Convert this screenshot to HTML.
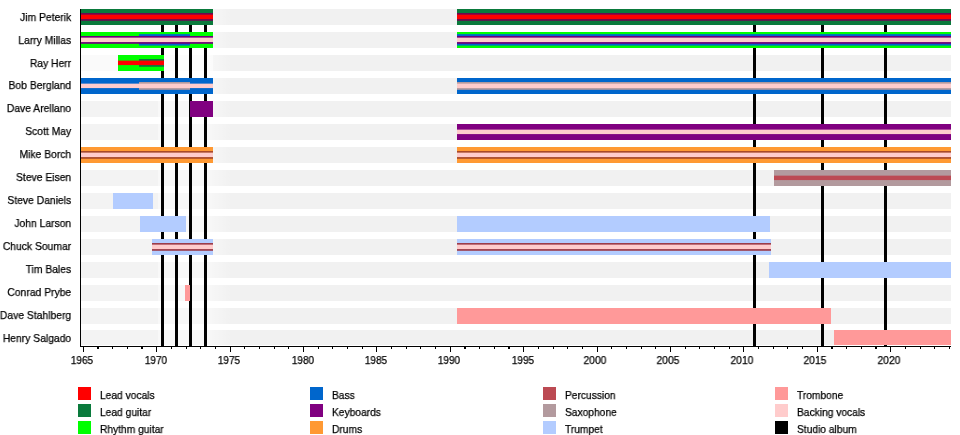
<!DOCTYPE html>
<html><head><meta charset="utf-8"><title>Timeline</title>
<style>
html,body{margin:0;padding:0;background:#fff;}
body{width:960px;height:435px;position:relative;overflow:hidden;font-family:"Liberation Sans",sans-serif;font-size:11px;color:#000;-webkit-text-stroke:0.25px #000;}
div{position:absolute;}
.g{background:#f1f1f1;}
.n{will-change:transform;left:-30px;width:101.2px;text-align:right;white-space:nowrap;line-height:12px;height:12px;transform-origin:100% 50%;transform:scaleX(.94);}
.a{background:#000;}
.y{will-change:transform;width:40px;text-align:center;top:354px;line-height:12px;transform:scaleX(.915);}
.s{width:13.2px;height:13px;}
.l{will-change:transform;white-space:nowrap;line-height:12px;transform-origin:0 50%;transform:scaleX(.93);}
</style></head><body>

<div class="g" style="left:80.5px;top:9px;width:870.3px;height:15.75px"></div>
<div class="g" style="left:80.5px;top:32px;width:870.3px;height:15.75px"></div>
<div class="g" style="left:80.5px;top:55px;width:870.3px;height:15.75px"></div>
<div class="g" style="left:80.5px;top:78px;width:870.3px;height:15.75px"></div>
<div class="g" style="left:80.5px;top:101px;width:870.3px;height:15.75px"></div>
<div class="g" style="left:80.5px;top:124px;width:870.3px;height:15.75px"></div>
<div class="g" style="left:80.5px;top:147px;width:870.3px;height:15.75px"></div>
<div class="g" style="left:80.5px;top:170px;width:870.3px;height:15.75px"></div>
<div class="g" style="left:80.5px;top:193px;width:870.3px;height:15.75px"></div>
<div class="g" style="left:80.5px;top:216px;width:870.3px;height:15.75px"></div>
<div class="g" style="left:80.5px;top:239px;width:870.3px;height:15.75px"></div>
<div class="g" style="left:80.5px;top:262px;width:870.3px;height:15.75px"></div>
<div class="g" style="left:80.5px;top:285px;width:870.3px;height:15.75px"></div>
<div class="g" style="left:80.5px;top:308px;width:870.3px;height:15.75px"></div>
<div class="g" style="left:80.5px;top:329.9px;width:870.3px;height:15.6px"></div>
<div style="left:80.5px;top:55px;width:132.5px;height:15.75px;background:#f9f9f9"></div>
<div style="left:80.5px;top:9px;width:77.5px;height:337.0px;background:rgba(255,255,255,.18)"></div>
<div style="left:158px;top:9px;width:74px;height:337.0px;background:linear-gradient(90deg,rgba(255,255,255,.5) 0,rgba(255,255,255,.5) 50px,rgba(255,255,255,.3) 58px,rgba(255,255,255,0) 74px)"></div>
<div class="a" style="left:161.05px;top:9px;width:2.9px;height:337.0px"></div>
<div class="a" style="left:175.05px;top:9px;width:2.9px;height:337.0px"></div>
<div class="a" style="left:189.05px;top:9px;width:2.9px;height:337.0px"></div>
<div class="a" style="left:204.05px;top:9px;width:2.9px;height:337.0px"></div>
<div class="a" style="left:753.05px;top:9px;width:2.9px;height:337.0px"></div>
<div class="a" style="left:821.25px;top:9px;width:2.9px;height:337.0px"></div>
<div class="a" style="left:884.25px;top:9px;width:2.9px;height:337.0px"></div>
<div style="left:80.5px;top:9px;width:132.5px;height:15.75px;background:linear-gradient(180deg,#0a7a3c 0.00px,#0a7a3c 3.52px,#6a0850 4.42px,#6a0850 5.17px,#ff0000 6.08px,#ff0000 9.68px,#6a0850 10.57px,#6a0850 11.33px,#0a7a3c 12.22px,#0a7a3c 15.75px)"></div>
<div style="left:457.0px;top:9px;width:493.8px;height:15.75px;background:linear-gradient(180deg,#0a7a3c 0.00px,#0a7a3c 3.52px,#6a0850 4.42px,#6a0850 5.17px,#ff0000 6.08px,#ff0000 9.68px,#6a0850 10.57px,#6a0850 11.33px,#0a7a3c 12.22px,#0a7a3c 15.75px)"></div>
<div style="left:80.5px;top:32px;width:58.9px;height:15.75px;background:linear-gradient(180deg,#00ff00 0.00px,#00ff00 3.52px,#6c0078 4.42px,#6c0078 5.17px,#ffcccc 6.08px,#ffcccc 9.68px,#6c0078 10.57px,#6c0078 11.33px,#00ff00 12.22px,#00ff00 15.75px)"></div>
<div style="left:139.4px;top:32px;width:50.2px;height:15.75px;background:linear-gradient(180deg,#00ff00 0.00px,#00ff00 1.72px,#0066cc 2.62px,#0066cc 3.52px,#6c0078 4.42px,#6c0078 5.17px,#ffcccc 6.08px,#ffcccc 9.68px,#6c0078 10.57px,#6c0078 11.33px,#0066cc 12.22px,#0066cc 13.12px,#00ff00 14.02px,#00ff00 15.75px)"></div>
<div style="left:189.6px;top:32px;width:23.4px;height:15.75px;background:linear-gradient(180deg,#00ff00 0.00px,#00ff00 3.52px,#6c0078 4.42px,#6c0078 5.17px,#ffcccc 6.08px,#ffcccc 9.68px,#6c0078 10.57px,#6c0078 11.33px,#00ff00 12.22px,#00ff00 15.75px)"></div>
<div style="left:457.0px;top:32px;width:493.8px;height:15.75px;background:linear-gradient(180deg,#00ff00 0.00px,#00ff00 1.72px,#0066cc 2.62px,#0066cc 3.52px,#6c0078 4.42px,#6c0078 5.17px,#ffcccc 6.08px,#ffcccc 9.68px,#6c0078 10.57px,#6c0078 11.33px,#0066cc 12.22px,#0066cc 13.12px,#00ff00 14.02px,#00ff00 15.75px)"></div>
<div style="left:118.0px;top:55px;width:21.4px;height:15.75px;background:linear-gradient(180deg,#00ff00 0.00px,#00ff00 5.17px,#ff0000 6.08px,#ff0000 9.68px,#00ff00 10.57px,#00ff00 15.75px)"></div>
<div style="left:139.4px;top:55px;width:24.6px;height:15.75px;background:linear-gradient(180deg,#00ff00 0.00px,#00ff00 3.52px,#0a7a3c 4.42px,#0a7a3c 5.17px,#ff0000 6.08px,#ff0000 9.68px,#0a7a3c 10.57px,#0a7a3c 11.33px,#00ff00 12.22px,#00ff00 15.75px)"></div>
<div style="left:80.5px;top:78px;width:58.9px;height:15.75px;background:linear-gradient(180deg,#0066cc 0.00px,#0066cc 5.17px,#ffcccc 6.08px,#ffcccc 9.68px,#0066cc 10.57px,#0066cc 15.75px)"></div>
<div style="left:139.4px;top:78px;width:50.2px;height:15.75px;background:linear-gradient(180deg,#0066cc 0.00px,#0066cc 3.52px,#b39a9e 4.42px,#b39a9e 5.17px,#ffcccc 6.08px,#ffcccc 9.68px,#b39a9e 10.57px,#b39a9e 11.33px,#0066cc 12.22px,#0066cc 15.75px)"></div>
<div style="left:189.6px;top:78px;width:23.4px;height:15.75px;background:linear-gradient(180deg,#0066cc 0.00px,#0066cc 5.17px,#ffcccc 6.08px,#ffcccc 9.68px,#0066cc 10.57px,#0066cc 15.75px)"></div>
<div style="left:457.0px;top:78px;width:493.8px;height:15.75px;background:linear-gradient(180deg,#0066cc 0.00px,#0066cc 3.52px,#b39a9e 4.42px,#b39a9e 5.17px,#ffcccc 6.08px,#ffcccc 9.68px,#b39a9e 10.57px,#b39a9e 11.33px,#0066cc 12.22px,#0066cc 15.75px)"></div>
<div style="left:189.6px;top:101px;width:23.4px;height:15.75px;background:#800080"></div>
<div style="left:457.0px;top:124px;width:493.8px;height:15.75px;background:linear-gradient(180deg,#800080 0.00px,#800080 5.17px,#ffcccc 6.08px,#ffcccc 9.68px,#800080 10.57px,#800080 15.75px)"></div>
<div style="left:80.5px;top:147px;width:132.5px;height:15.75px;background:linear-gradient(180deg,#ff9933 0.00px,#ff9933 3.52px,#a84a2a 4.42px,#a84a2a 5.17px,#ffcccc 6.08px,#ffcccc 9.68px,#a84a2a 10.57px,#a84a2a 11.33px,#ff9933 12.22px,#ff9933 15.75px)"></div>
<div style="left:457.0px;top:147px;width:493.8px;height:15.75px;background:linear-gradient(180deg,#ff9933 0.00px,#ff9933 3.52px,#a84a2a 4.42px,#a84a2a 5.17px,#ffcccc 6.08px,#ffcccc 9.68px,#a84a2a 10.57px,#a84a2a 11.33px,#ff9933 12.22px,#ff9933 15.75px)"></div>
<div style="left:773.8px;top:170px;width:177.0px;height:15.75px;background:linear-gradient(180deg,#b39a9e 0.00px,#b39a9e 5.17px,#bc4a53 6.08px,#bc4a53 9.68px,#b39a9e 10.57px,#b39a9e 15.75px)"></div>
<div style="left:113.4px;top:193px;width:39.6px;height:15.75px;background:#b3ccff"></div>
<div style="left:139.6px;top:216px;width:46.4px;height:15.75px;background:#b3ccff"></div>
<div style="left:457.0px;top:216px;width:312.8px;height:15.75px;background:#b3ccff"></div>
<div style="left:152.0px;top:239px;width:61.0px;height:15.75px;background:linear-gradient(180deg,#b3ccff 0.00px,#b3ccff 3.52px,#9c3c4a 4.42px,#9c3c4a 5.17px,#ffcccc 6.08px,#ffcccc 9.68px,#9c3c4a 10.57px,#9c3c4a 11.33px,#b3ccff 12.22px,#b3ccff 15.75px)"></div>
<div style="left:457.0px;top:239px;width:314.1px;height:15.75px;background:linear-gradient(180deg,#b3ccff 0.00px,#b3ccff 3.52px,#9c3c4a 4.42px,#9c3c4a 5.17px,#ffcccc 6.08px,#ffcccc 9.68px,#9c3c4a 10.57px,#9c3c4a 11.33px,#b3ccff 12.22px,#b3ccff 15.75px)"></div>
<div style="left:769.2px;top:262px;width:181.6px;height:15.75px;background:#b3ccff"></div>
<div style="left:185.0px;top:285px;width:5.0px;height:15.75px;background:#ff9999"></div>
<div style="left:457.0px;top:308px;width:373.8px;height:15.75px;background:#ff9999"></div>
<div style="left:833.5px;top:329.9px;width:117.3px;height:15.6px;background:#ff9999"></div>
<div class="a" style="left:80px;top:9px;width:1.1px;height:337.6px"></div>
<div class="a" style="left:80px;top:345.6px;width:870.8px;height:1.3px"></div>
<div class="a" style="left:82.75px;top:346.0px;width:1.1px;height:5.8px"></div>
<div class="y" style="left:62.30px">1965</div>
<div class="a" style="left:97.43px;top:346.0px;width:1.1px;height:3px"></div>
<div class="a" style="left:112.11px;top:346.0px;width:1.1px;height:3px"></div>
<div class="a" style="left:126.79px;top:346.0px;width:1.1px;height:3px"></div>
<div class="a" style="left:141.47px;top:346.0px;width:1.1px;height:3px"></div>
<div class="a" style="left:156.15px;top:346.0px;width:1.1px;height:5.8px"></div>
<div class="y" style="left:135.70px">1970</div>
<div class="a" style="left:170.83px;top:346.0px;width:1.1px;height:3px"></div>
<div class="a" style="left:185.51px;top:346.0px;width:1.1px;height:3px"></div>
<div class="a" style="left:200.19px;top:346.0px;width:1.1px;height:3px"></div>
<div class="a" style="left:214.87px;top:346.0px;width:1.1px;height:3px"></div>
<div class="a" style="left:229.55px;top:346.0px;width:1.1px;height:5.8px"></div>
<div class="y" style="left:209.10px">1975</div>
<div class="a" style="left:244.23px;top:346.0px;width:1.1px;height:3px"></div>
<div class="a" style="left:258.91px;top:346.0px;width:1.1px;height:3px"></div>
<div class="a" style="left:273.59px;top:346.0px;width:1.1px;height:3px"></div>
<div class="a" style="left:288.27px;top:346.0px;width:1.1px;height:3px"></div>
<div class="a" style="left:302.95px;top:346.0px;width:1.1px;height:5.8px"></div>
<div class="y" style="left:282.50px">1980</div>
<div class="a" style="left:317.63px;top:346.0px;width:1.1px;height:3px"></div>
<div class="a" style="left:332.31px;top:346.0px;width:1.1px;height:3px"></div>
<div class="a" style="left:346.99px;top:346.0px;width:1.1px;height:3px"></div>
<div class="a" style="left:361.67px;top:346.0px;width:1.1px;height:3px"></div>
<div class="a" style="left:376.35px;top:346.0px;width:1.1px;height:5.8px"></div>
<div class="y" style="left:355.90px">1985</div>
<div class="a" style="left:391.03px;top:346.0px;width:1.1px;height:3px"></div>
<div class="a" style="left:405.71px;top:346.0px;width:1.1px;height:3px"></div>
<div class="a" style="left:420.39px;top:346.0px;width:1.1px;height:3px"></div>
<div class="a" style="left:435.07px;top:346.0px;width:1.1px;height:3px"></div>
<div class="a" style="left:449.75px;top:346.0px;width:1.1px;height:5.8px"></div>
<div class="y" style="left:429.30px">1990</div>
<div class="a" style="left:464.43px;top:346.0px;width:1.1px;height:3px"></div>
<div class="a" style="left:479.11px;top:346.0px;width:1.1px;height:3px"></div>
<div class="a" style="left:493.79px;top:346.0px;width:1.1px;height:3px"></div>
<div class="a" style="left:508.47px;top:346.0px;width:1.1px;height:3px"></div>
<div class="a" style="left:523.15px;top:346.0px;width:1.1px;height:5.8px"></div>
<div class="y" style="left:502.70px">1995</div>
<div class="a" style="left:537.83px;top:346.0px;width:1.1px;height:3px"></div>
<div class="a" style="left:552.51px;top:346.0px;width:1.1px;height:3px"></div>
<div class="a" style="left:567.19px;top:346.0px;width:1.1px;height:3px"></div>
<div class="a" style="left:581.87px;top:346.0px;width:1.1px;height:3px"></div>
<div class="a" style="left:596.55px;top:346.0px;width:1.1px;height:5.8px"></div>
<div class="y" style="left:575.00px;transform:scaleX(.94)">2000</div>
<div class="a" style="left:611.23px;top:346.0px;width:1.1px;height:3px"></div>
<div class="a" style="left:625.91px;top:346.0px;width:1.1px;height:3px"></div>
<div class="a" style="left:640.59px;top:346.0px;width:1.1px;height:3px"></div>
<div class="a" style="left:655.27px;top:346.0px;width:1.1px;height:3px"></div>
<div class="a" style="left:669.95px;top:346.0px;width:1.1px;height:5.8px"></div>
<div class="y" style="left:648.40px;transform:scaleX(.94)">2005</div>
<div class="a" style="left:684.63px;top:346.0px;width:1.1px;height:3px"></div>
<div class="a" style="left:699.31px;top:346.0px;width:1.1px;height:3px"></div>
<div class="a" style="left:713.99px;top:346.0px;width:1.1px;height:3px"></div>
<div class="a" style="left:728.67px;top:346.0px;width:1.1px;height:3px"></div>
<div class="a" style="left:743.35px;top:346.0px;width:1.1px;height:5.8px"></div>
<div class="y" style="left:721.80px;transform:scaleX(.94)">2010</div>
<div class="a" style="left:758.03px;top:346.0px;width:1.1px;height:3px"></div>
<div class="a" style="left:772.71px;top:346.0px;width:1.1px;height:3px"></div>
<div class="a" style="left:787.39px;top:346.0px;width:1.1px;height:3px"></div>
<div class="a" style="left:802.07px;top:346.0px;width:1.1px;height:3px"></div>
<div class="a" style="left:816.75px;top:346.0px;width:1.1px;height:5.8px"></div>
<div class="y" style="left:795.20px;transform:scaleX(.94)">2015</div>
<div class="a" style="left:831.43px;top:346.0px;width:1.1px;height:3px"></div>
<div class="a" style="left:846.11px;top:346.0px;width:1.1px;height:3px"></div>
<div class="a" style="left:860.79px;top:346.0px;width:1.1px;height:3px"></div>
<div class="a" style="left:875.47px;top:346.0px;width:1.1px;height:3px"></div>
<div class="a" style="left:890.15px;top:346.0px;width:1.1px;height:5.8px"></div>
<div class="y" style="left:868.60px;transform:scaleX(.94)">2020</div>
<div class="a" style="left:904.83px;top:346.0px;width:1.1px;height:3px"></div>
<div class="a" style="left:919.51px;top:346.0px;width:1.1px;height:3px"></div>
<div class="a" style="left:934.19px;top:346.0px;width:1.1px;height:3px"></div>
<div class="a" style="left:948.87px;top:346.0px;width:1.1px;height:3px"></div>
<div class="n" style="top:10.70px">Jim Peterik</div>
<div class="n" style="top:33.63px">Larry Millas</div>
<div class="n" style="top:56.56px">Ray Herr</div>
<div class="n" style="top:79.49px">Bob Bergland</div>
<div class="n" style="top:102.42px">Dave Arellano</div>
<div class="n" style="top:125.35px">Scott May</div>
<div class="n" style="top:148.28px">Mike Borch</div>
<div class="n" style="top:171.21px">Steve Eisen</div>
<div class="n" style="top:194.14px">Steve Daniels</div>
<div class="n" style="top:217.07px">John Larson</div>
<div class="n" style="top:240.00px">Chuck Soumar</div>
<div class="n" style="top:262.93px">Tim Bales</div>
<div class="n" style="top:285.86px">Conrad Prybe</div>
<div class="n" style="top:308.79px">Dave Stahlberg</div>
<div class="n" style="top:331.72px">Henry Salgado</div>
<div class="s" style="left:77.9px;top:387.00px;background:#ff0000"></div>
<div class="l" style="left:99.6px;top:389.30px">Lead vocals</div>
<div class="s" style="left:77.9px;top:403.85px;background:#0a7a3c"></div>
<div class="l" style="left:99.6px;top:406.15px">Lead guitar</div>
<div class="s" style="left:77.9px;top:420.70px;background:#00ff00"></div>
<div class="l" style="left:99.6px;top:423.00px">Rhythm guitar</div>
<div class="s" style="left:310.1px;top:387.00px;background:#0066cc"></div>
<div class="l" style="left:332.2px;top:389.30px">Bass</div>
<div class="s" style="left:310.1px;top:403.85px;background:#800080"></div>
<div class="l" style="left:332.2px;top:406.15px">Keyboards</div>
<div class="s" style="left:310.1px;top:420.70px;background:#ff9933"></div>
<div class="l" style="left:332.2px;top:423.00px">Drums</div>
<div class="s" style="left:543.0px;top:387.00px;background:#bc4a53"></div>
<div class="l" style="left:564.7px;top:389.30px">Percussion</div>
<div class="s" style="left:543.0px;top:403.85px;background:#b39a9e"></div>
<div class="l" style="left:564.7px;top:406.15px">Saxophone</div>
<div class="s" style="left:543.0px;top:420.70px;background:#b3ccff"></div>
<div class="l" style="left:564.7px;top:423.00px">Trumpet</div>
<div class="s" style="left:774.9px;top:387.00px;background:#ff9999"></div>
<div class="l" style="left:797.2px;top:389.30px">Trombone</div>
<div class="s" style="left:774.9px;top:403.85px;background:#ffcccc"></div>
<div class="l" style="left:797.2px;top:406.15px">Backing vocals</div>
<div class="s" style="left:774.9px;top:420.70px;background:#000000"></div>
<div class="l" style="left:797.2px;top:423.00px">Studio album</div>
</body></html>
